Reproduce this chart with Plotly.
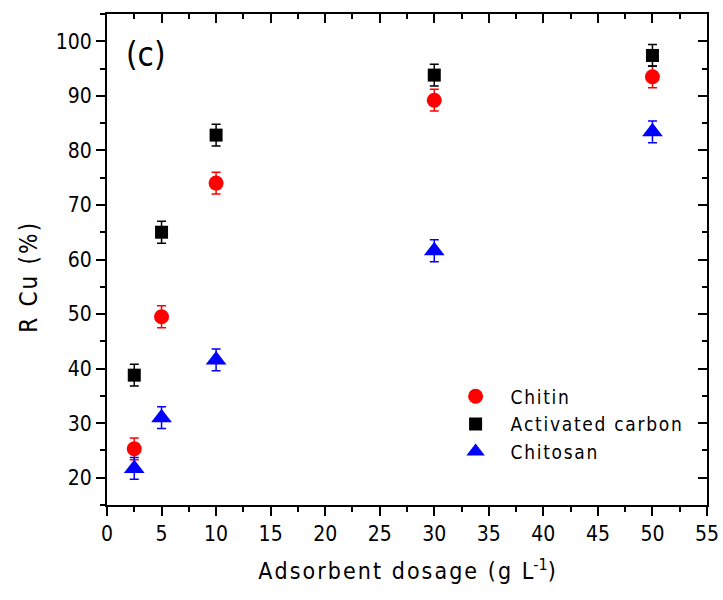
import plotly.graph_objects as go

# Adsorbent dosage (g/L) and Cu removal (%) with standard deviations
dosage = [2.5, 5, 10, 30, 50]

chitin = [25.3, 49.5, 74.0, 89.2, 93.5]
chitin_err = [2.0, 2.0, 2.0, 2.0, 2.0]

activated_carbon = [38.8, 65.0, 82.8, 93.8, 97.4]
activated_carbon_err = [2.0, 2.0, 2.0, 2.0, 2.0]

chitosan = [21.7, 31.0, 41.6, 61.6, 83.4]
chitosan_err = [2.0, 2.0, 2.0, 2.0, 2.0]

x_ticks = list(range(0, 60, 5))
y_ticks = list(range(20, 110, 10))

FONT = "DejaVu Sans Condensed, Liberation Sans Narrow, Arial Narrow, sans-serif"
HS = "\u200a"  # hair space used for the loose letter spacing of titles


def spaced(s):
    return HS.join(s)


fig = go.Figure()

series = [
    ("Chitin", chitin, chitin_err, "red", "circle", 15),
    ("Activated carbon", activated_carbon, activated_carbon_err, "black", "square", 13),
    ("Chitosan", chitosan, chitosan_err, "blue", "triangle-up", 18),
]

for name, vals, errs, color, symbol, size in series:
    fig.add_trace(go.Scatter(
        x=dosage, y=vals, name=spaced(name), mode="markers",
        marker=dict(color=color, symbol=symbol, size=size, line=dict(width=0)),
        error_y=dict(type="data", array=errs, visible=True,
                     color=color, thickness=1.5, width=4.5),
    ))

axis_common = dict(
    showgrid=False, zeroline=False, showline=True,
    linecolor="black", linewidth=2,
    tickcolor="black", tickwidth=2, automargin=False,
)

fig.update_layout(
    width=723, height=600,
    margin=dict(l=107, r=16, t=14, b=95),
    paper_bgcolor="white", plot_bgcolor="white",
    font=dict(family=FONT, color="black", size=20),
    xaxis=dict(
        **axis_common, range=[0, 55], tickvals=x_ticks,
        ticks="outside", ticklen=9,
        minor=dict(dtick=2.5, ticks="outside", ticklen=5, tickwidth=2, tickcolor="black"),
        tickfont=dict(size=21),
        title=dict(text=spaced("Adsorbent dosage (g L") + "<sup>-1</sup>)",
                   font=dict(size=23), standoff=18),
    ),
    yaxis=dict(
        **axis_common, range=[15, 105], tickvals=y_ticks,
        ticks="outside", ticklen=9,
        minor=dict(dtick=5, ticks="outside", ticklen=5, tickwidth=2, tickcolor="black"),
        tickfont=dict(size=21),
    ),
    xaxis2=dict(
        **axis_common, overlaying="x", side="top", range=[0, 55],
        tickvals=x_ticks, ticks="inside", ticklen=9, showticklabels=False,
        minor=dict(dtick=2.5, ticks="inside", ticklen=5, tickwidth=2, tickcolor="black"),
    ),
    yaxis2=dict(
        **axis_common, overlaying="y", side="right", range=[15, 105],
        tickvals=y_ticks, ticks="inside", ticklen=9, showticklabels=False,
        minor=dict(dtick=5, ticks="inside", ticklen=5, tickwidth=2, tickcolor="black"),
    ),
    legend=dict(
        x=0.556, y=0.26, xanchor="left", yanchor="top",
        bgcolor="rgba(0,0,0,0)", font=dict(size=19),
        tracegroupgap=0, itemwidth=60,
    ),
    showlegend=True,
    annotations=[
        dict(text="(c)", xref="paper", yref="paper", x=0.028, y=0.962,
             xanchor="left", yanchor="top", showarrow=False,
             font=dict(size=33, family=FONT)),
        dict(text=spaced("R Cu (%)"), xref="paper", yref="paper",
             x=-0.129, y=0.462, xanchor="center", yanchor="middle",
             textangle=-90, showarrow=False, font=dict(size=24, family=FONT)),
    ],
)

# invisible companion trace so the mirrored top/right axes are drawn
fig.add_trace(go.Scatter(x=dosage, y=chitin, xaxis="x2", yaxis="y2",
                         mode="markers", marker=dict(opacity=0),
                         showlegend=False, hoverinfo="skip"))

fig.write_html("out.html")
